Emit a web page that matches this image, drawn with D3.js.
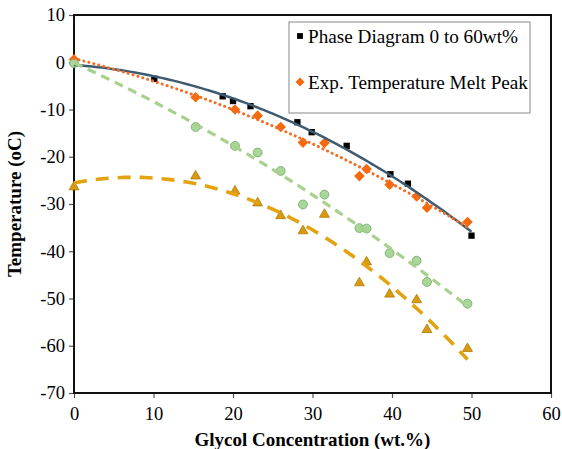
<!DOCTYPE html>
<html>
<head>
<meta charset="utf-8">
<script src="https://cdn.jsdelivr.net/npm/d3@7"></script>
<style>
  body { margin: 0; background: #fff; }
  svg text { font-family: "Liberation Serif", "DejaVu Serif", serif !important; fill: #000; }
</style>
</head>
<body>
<div id="chart"></div>
<script>
// glycol concentration (wt.%) and temperatures (oC)
var phaseX = [0, 10.1, 18.7, 20.0, 22.2, 28.1, 29.9, 34.3, 39.8, 42.0, 50.0];
var phaseY = [0, -3.5, -7.2, -8.2, -9.3, -12.7, -14.8, -17.7, -23.7, -25.7, -36.7];

var meltX = [0, 15.3, 20.25, 23.1, 26.0, 28.8, 31.5, 35.9, 36.8, 39.7, 43.1, 44.4, 49.5];
var meltY = [0.6, -7.4, -10.0, -11.3, -13.7, -17.0, -17.1, -24.1, -22.6, -25.9, -28.4, -30.8, -33.8];

var greenX = [0, 15.3, 20.25, 23.1, 26.0, 28.8, 31.5, 35.9, 36.8, 39.7, 43.1, 44.4, 49.5];
var greenY = [-0.2, -13.7, -17.7, -19.1, -23.0, -30.1, -28.0, -35.1, -35.2, -40.4, -42.0, -46.5, -51.1];

var triX = [0, 15.3, 20.25, 23.1, 26.0, 28.8, 31.5, 35.9, 36.8, 39.7, 43.1, 44.4, 49.5];
var triY = [-26.4, -24.1, -27.3, -29.8, -32.5, -35.7, -32.2, -46.7, -42.3, -49.1, -50.3, -56.6, -60.6];

var xTicks = [0, 10, 20, 30, 40, 50, 60];
var yTicks = [10, 0, -10, -20, -30, -40, -50, -60, -70];

var legendNames = ["Phase Diagram 0 to 60wt%", "Exp. Temperature Melt Peak"];

var svgWidth = 562;
var svgHeight = 449;

var margin = { top: 15, right: 11, bottom: 56, left: 74 };
var width = svgWidth - margin.left - margin.right;
var height = svgHeight - margin.top - margin.bottom;

var svg = d3.select("#chart")
  .append("svg")
  .attr("width", svgWidth)
  .attr("height", svgHeight);

var chartGroup = svg.append("g")
  .attr("transform", `translate(${margin.left}, ${margin.top})`);

var xScale = d3.scaleLinear().domain([0, 60]).range([0, width]);
var yScale = d3.scaleLinear().domain([-70, 10]).range([height, 0]);

// axes (plain hyphen for negatives, like the original)
var bottomAxis = d3.axisBottom(xScale).tickValues(xTicks).tickSize(5).tickSizeOuter(0)
  .tickFormat(d => String(d));
var leftAxis = d3.axisLeft(yScale).tickValues(yTicks).tickSize(5).tickSizeOuter(0)
  .tickFormat(d => String(d));

var xAxis = chartGroup.append("g")
  .attr("transform", `translate(0, ${height})`)
  .call(bottomAxis);
var yAxis = chartGroup.append("g").call(leftAxis);

[xAxis, yAxis].forEach(function(ax) {
  ax.attr("font-family", null);
  ax.select(".domain").remove();
  ax.selectAll("line").attr("stroke", "#555").attr("stroke-width", 1.2);
  ax.selectAll("text").style("font-size", "18.5px");
});
xAxis.selectAll("text").attr("dy", "1.05em");
yAxis.selectAll("text").attr("x", -9);

// plot frame
chartGroup.append("rect")
  .attr("width", width)
  .attr("height", height)
  .attr("fill", "none")
  .attr("stroke", "#111")
  .attr("stroke-width", 2);

// quadratic least squares fit, like the spreadsheet trendline
function polyFit(xs, ys) {
  var s = [0, 0, 0, 0, 0], t = [0, 0, 0];
  xs.forEach(function(x, i) {
    for (var k = 0; k < 5; k++) s[k] += Math.pow(x, k);
    for (var k2 = 0; k2 < 3; k2++) t[k2] += ys[i] * Math.pow(x, k2);
  });
  var m = [[s[0], s[1], s[2], t[0]], [s[1], s[2], s[3], t[1]], [s[2], s[3], s[4], t[2]]];
  for (var c = 0; c < 3; c++) {
    for (var r = c + 1; r < 3; r++) {
      var f = m[r][c] / m[c][c];
      for (var j = c; j < 4; j++) m[r][j] -= f * m[c][j];
    }
  }
  var b = [0, 0, 0];
  for (var r2 = 2; r2 >= 0; r2--) {
    var v = m[r2][3];
    for (var j2 = r2 + 1; j2 < 3; j2++) v -= m[r2][j2] * b[j2];
    b[r2] = v / m[r2][r2];
  }
  return function(x) { return b[0] + b[1] * x + b[2] * x * x; };
}

function zip(xs, ys) { return xs.map(function(x, i) { return { x: x, y: ys[i] }; }); }

var line = d3.line().x(d => xScale(d.x)).y(d => yScale(d.y));

function trend(xs, ys, color, w, dash, cap) {
  var f = polyFit(xs, ys);
  var x0 = d3.min(xs), x1 = d3.max(xs);
  var pts = d3.range(0, 101).map(function(i) {
    var x = x0 + (x1 - x0) * i / 100;
    return { x: x, y: f(x) };
  });
  chartGroup.append("path")
    .datum(pts)
    .attr("d", line)
    .attr("fill", "none")
    .attr("stroke", color)
    .attr("stroke-width", w)
    .attr("stroke-dasharray", dash)
    .attr("stroke-linecap", cap);
}

var sym = d3.symbol();

function markers(xs, ys, type, size, fill, stroke) {
  chartGroup.selectAll(null)
    .data(zip(xs, ys))
    .enter()
    .append("path")
    .attr("transform", d => `translate(${xScale(d.x)}, ${yScale(d.y)})`)
    .attr("d", sym.type(type).size(size)())
    .attr("fill", fill)
    .attr("stroke", stroke)
    .attr("stroke-width", 0.8);
}

markers(phaseX, phaseY, d3.symbolSquare, 40, "#000", "none");
markers(meltX, meltY, d3.symbolDiamond2, 72, "#f56a0e", "none");
markers(greenX, greenY, d3.symbolCircle, 62, "#a9d69a", "#6fa862");
markers(triX, triY, d3.symbolTriangle, 42, "#d99a10", "#b07a08");

trend(phaseX, phaseY, "#3f5b70", 2.5, null, "butt");
trend(meltX, meltY, "#f26d25", 3, "0.1 5", "round");
trend(greenX, greenY, "#a9d18e", 3.2, "9 6", "butt");
trend(triX, triY, "#e3a20f", 3.6, "13 9", "butt");

// axis titles
svg.append("text")
  .attr("x", margin.left + width / 2)
  .attr("y", 446)
  .attr("text-anchor", "middle")
  .style("font-size", "19px")
  .style("font-weight", "bold")
  .text("Glycol Concentration (wt.%)");

svg.append("text")
  .attr("transform", `translate(21, ${margin.top + height / 2}) rotate(-90)`)
  .attr("text-anchor", "middle")
  .style("font-size", "19px")
  .style("font-weight", "bold")
  .text("Temperature (oC)");

// legend
var legend = svg.append("g").attr("transform", "translate(289, 22)");
legend.append("rect")
  .attr("width", 241)
  .attr("height", 91)
  .attr("fill", "#fff")
  .attr("stroke", "#888")
  .attr("stroke-width", 1);

var legendSyms = [
  { type: d3.symbolSquare, size: 34, fill: "#000" },
  { type: d3.symbolDiamond2, size: 52, fill: "#f56a0e" }
];
legendNames.forEach(function(name, i) {
  var gy = 14 + i * 46;
  legend.append("path")
    .attr("transform", `translate(11, ${gy})`)
    .attr("d", sym.type(legendSyms[i].type).size(legendSyms[i].size)())
    .attr("fill", legendSyms[i].fill);
  legend.append("text")
    .attr("x", 19)
    .attr("y", gy)
    .attr("dy", "0.35em")
    .style("font-size", "19.2px")
    .text(name);
});
</script>
</body>
</html>
